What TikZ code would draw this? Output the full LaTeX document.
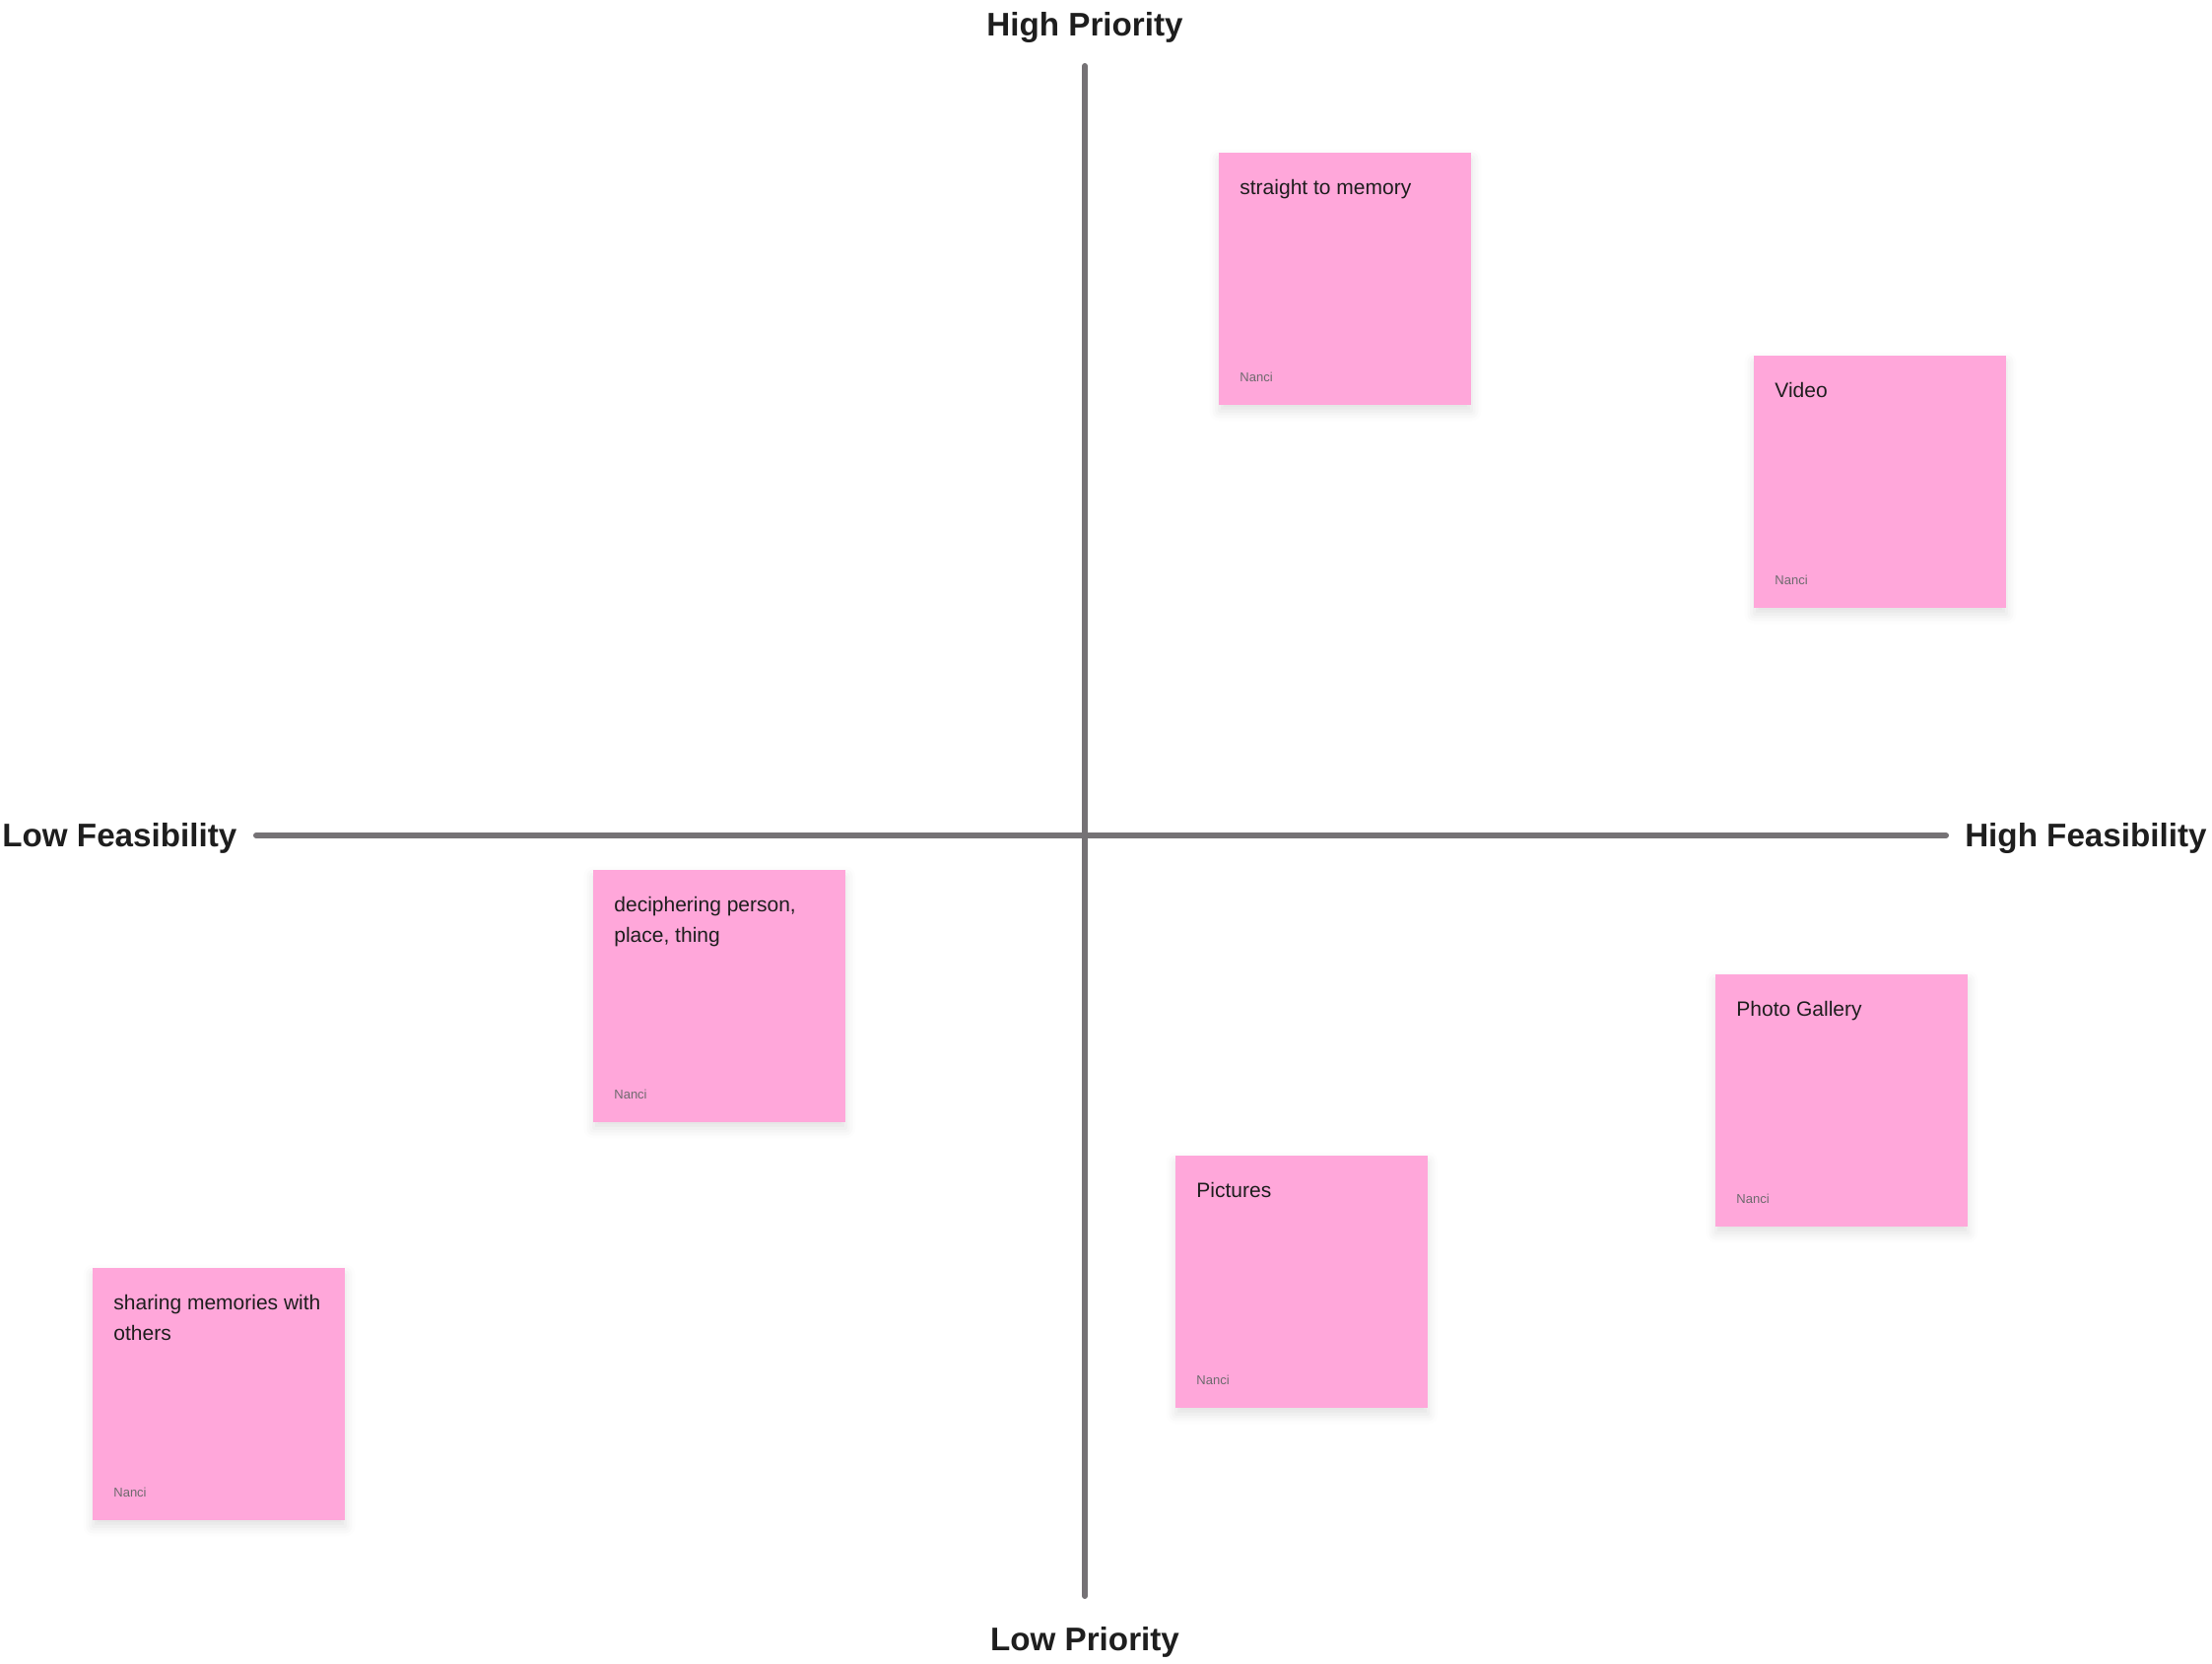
\documentclass[tikz,border=0pt]{standalone}
\usepackage{fontspec}
\setmainfont{Liberation Sans}
\usetikzlibrary{shadows.blur}
\definecolor{notepink}{HTML}{FFA7DA}
\definecolor{axisgray}{HTML}{757275}
\definecolor{inkdark}{HTML}{1E1E1E}
\definecolor{authorgray}{HTML}{6E6A6E}
\tikzset{
  axisline/.style={draw=axisgray, line width=3pt, line cap=round},
  axislabel/.style={font=\fontsize{16.6}{19}\bfseries\selectfont, text=inkdark, inner sep=0pt},
  sticky/.style={fill=notepink, minimum width=128pt, minimum height=128pt, inner sep=0pt, anchor=north west,
    blur shadow={shadow xshift=0pt, shadow yshift=-3pt, shadow blur radius=5pt, shadow opacity=12}},
  stickytext/.style={font=\fontsize{10.5}{15.2}\selectfont, text=inkdark, align=left, inner sep=0pt, anchor=north west},
  stickyauthor/.style={font=\fontsize{6.5}{8}\selectfont, text=authorgray, inner sep=0pt, anchor=base west}
}
\begin{document}
\begin{tikzpicture}[x=0.5pt, y=-0.5pt]
\useasboundingbox (0,0) rectangle (2245,1689);
% axes
\coordinate (top) at (1101,67);
\coordinate (bottom) at (1101,1620);
\coordinate (left) at (260,848);
\coordinate (right) at (1975,848);
\draw[axisline] (top) -- (bottom);
\draw[axisline] (left) -- (right);
\node[axislabel, anchor=base] (highprio) at (1101,37) {High Priority};
\node[axislabel, anchor=base] (lowprio) at (1101,1675) {Low Priority};
\node[axislabel, anchor=base west] (lowfeas) at (2,860) {Low Feasibility};
\node[axislabel, anchor=base east] (highfeas) at (2240,860) {High Feasibility};
% sticky notes
\foreach \n/\x/\y/\t in {memory/1237/155/{straight to memory},
    video/1780/361/{Video},
    decipher/602/883/{deciphering person,\\place, thing},
    gallery/1741/989/{Photo Gallery},
    pictures/1193/1173/{Pictures},
    sharing/94/1287/{sharing memories with\\others}}{
  \node[sticky] (\n) at (\x,\y) {};
  \node[stickytext] (\n-text) at ([shift={(21,27)}]\n.north west) {\t};
  \node[stickyauthor] (\n-author) at ([shift={(21,-24)}]\n.south west) {Nanci};
}
\end{tikzpicture}
\end{document}
